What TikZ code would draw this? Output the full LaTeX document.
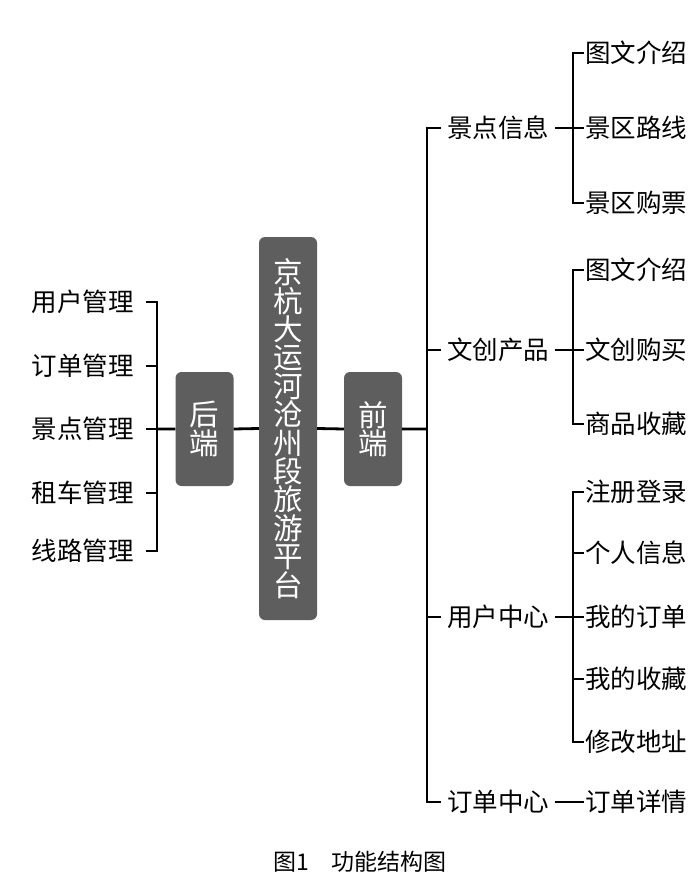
\documentclass[tikz,border=0pt]{standalone}
\usepackage{fontspec}
\newfontfamily\cjk{Noto Sans CJK SC}
\usepackage{xcolor}
\usetikzlibrary{positioning}
\definecolor{boxgray}{HTML}{5E5E5E}
\tikzset{
  gbox/.style={fill=boxgray,rounded corners=6pt,text=white,align=center,font=\cjk\fontsize{29.5}{28.4}\selectfont,inner sep=0pt},
  item/.style={font=\cjk\fontsize{25.5}{28}\selectfont,inner ysep=0pt},
  link/.style={line width=2.8pt},
}
\begin{document}
\begin{tikzpicture}[x=1pt,y=-1pt]
\useasboundingbox (0,0) rectangle (700,896);
% centre column
\node[gbox,minimum width=58pt,minimum height=383pt] (plat) at (288,428.5) {京\\杭\\大\\运\\河\\沧\\州\\段\\旅\\游\\平\\台};
\node[gbox,minimum width=58pt,minimum height=114pt] (back) at (204.5,429) {后\\端};
\node[gbox,minimum width=58pt,minimum height=114pt] (front) at (373,429) {前\\端};
\coordinate (lbar) at (157,429);
\coordinate (rbar) at (427,429);
\draw[link] (lbar)--(back.west) (back.east)--(plat.west) (plat.east)--(front.west) (front.east)--(rbar);
% back end
\foreach \i/\y/\lab in {1/302/用户管理,2/366/订单管理,3/429/景点管理,4/493/租车管理,5/551/线路管理}
{\node[item,anchor=east,inner xsep=12pt] (b\i) at (146,\y) {\lab}; \draw[link] (b\i.east)-|(lbar);}
% front end
\foreach \i/\y/\lab in {1/128/景点信息,2/350/文创产品,3/617/用户中心,4/802/订单中心}
{\node[item,anchor=west,inner xsep=6pt] (m\i) at (441,\y) {\lab}; \draw[link] (rbar)|-(m\i.west);}
\coordinate (s1) at (573,128);
\coordinate (s2) at (573,350);
\coordinate (s3) at (573,617);
\draw[link] (m1.east)--(s1) (m2.east)--(s2) (m3.east)--(s3);
\foreach \s/\j/\y/\lab in {1/1/53/图文介绍,1/2/128/景区路线,1/3/203/景区购票,2/1/270/图文介绍,2/2/350/文创购买,2/3/424/商品收藏,3/1/492/注册登录,3/2/553/个人信息,3/3/617/我的订单,3/4/679/我的收藏,3/5/742/修改地址}
{\node[item,anchor=west,inner xsep=1pt] (l\s\j) at (584,\y) {\lab}; \draw[link] (s\s)|-(l\s\j.west);}
\node[item,anchor=west,inner xsep=1pt] (l41) at (584,802) {订单详情};
\draw[link] (m4.east)--(l41.west);
% caption
\node[font=\cjk\fontsize{23}{26}\selectfont] (cap) at (360,862) {图1\quad 功能结构图};
\end{tikzpicture}
\end{document}
